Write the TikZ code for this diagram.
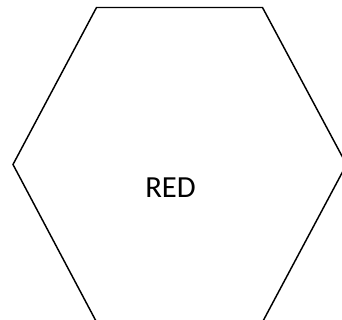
\documentclass[tikz,border=0pt]{standalone}
\usepackage{fontspec}
\setmainfont{Carlito}
\begin{document}
\begin{tikzpicture}[x=0.75pt,y=-0.75pt,
  hexline/.style={draw=black,line width=1.1pt,line join=miter},
  lbl/.style={font=\fontsize{23}{27}\selectfont,text=black,inner sep=0pt,anchor=base}]
\useasboundingbox (0,0) rectangle (342,320);
\coordinate (tl) at (96.5,7.5);
\coordinate (tr) at (262.5,7.5);
\coordinate (r) at (346.5,164.5);
\coordinate (br) at (262.5,322);
\coordinate (bl) at (96.5,322);
\coordinate (l) at (13,164.5);
\draw[hexline] (tl) -- (tr) -- (r) -- (br) -- (bl) -- (l) -- cycle;
\node[lbl] (red) at (170.5,197.5) {RED};
\end{tikzpicture}
\end{document}
